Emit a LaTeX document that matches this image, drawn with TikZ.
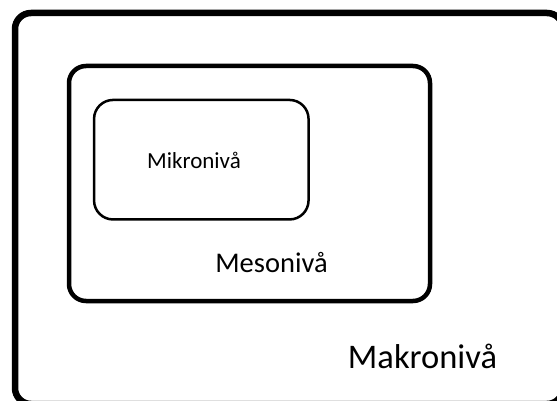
\documentclass[tikz,border=0pt]{standalone}
\usepackage{fontspec}
\setmainfont{Carlito}
\begin{document}
\begin{tikzpicture}[x=1pt,y=-1pt,
  level/.style={draw=black,fill=none,rounded corners=#1,inner sep=0pt},
  label/.style={anchor=base,inner sep=0pt,text=black}]
\useasboundingbox (0,0) rectangle (557,401);
\fill[white] (0,0) rectangle (557,401);
\begin{scope}
\clip (0,0) rectangle (557,401);
% outer level, partly running past the page edge
\node[level=16pt,line width=6.5pt,minimum width=548pt,minimum height=391pt] (macro) at (289,208.5) {};
\end{scope}
% middle level
\node[level=17pt,line width=4.5pt,minimum width=361pt,minimum height=235pt] (meso) at (249.5,183.5) {};
% inner level
\node[level=19pt,line width=2.5pt,minimum width=214.5pt,minimum height=119.5pt] (micro) at (201.3,159.7) {};
% level names
\node[label,font=\fontsize{23}{27}\selectfont] (mikrotxt) at (194,168) {Mikronivå};
\node[label,font=\fontsize{28.5}{33}\selectfont] (mesotxt) at (271.5,272) {Mesonivå};
\node[label,font=\fontsize{34.5}{40}\selectfont] (makrotxt) at (422.5,368) {Makronivå};
\end{tikzpicture}
\end{document}
